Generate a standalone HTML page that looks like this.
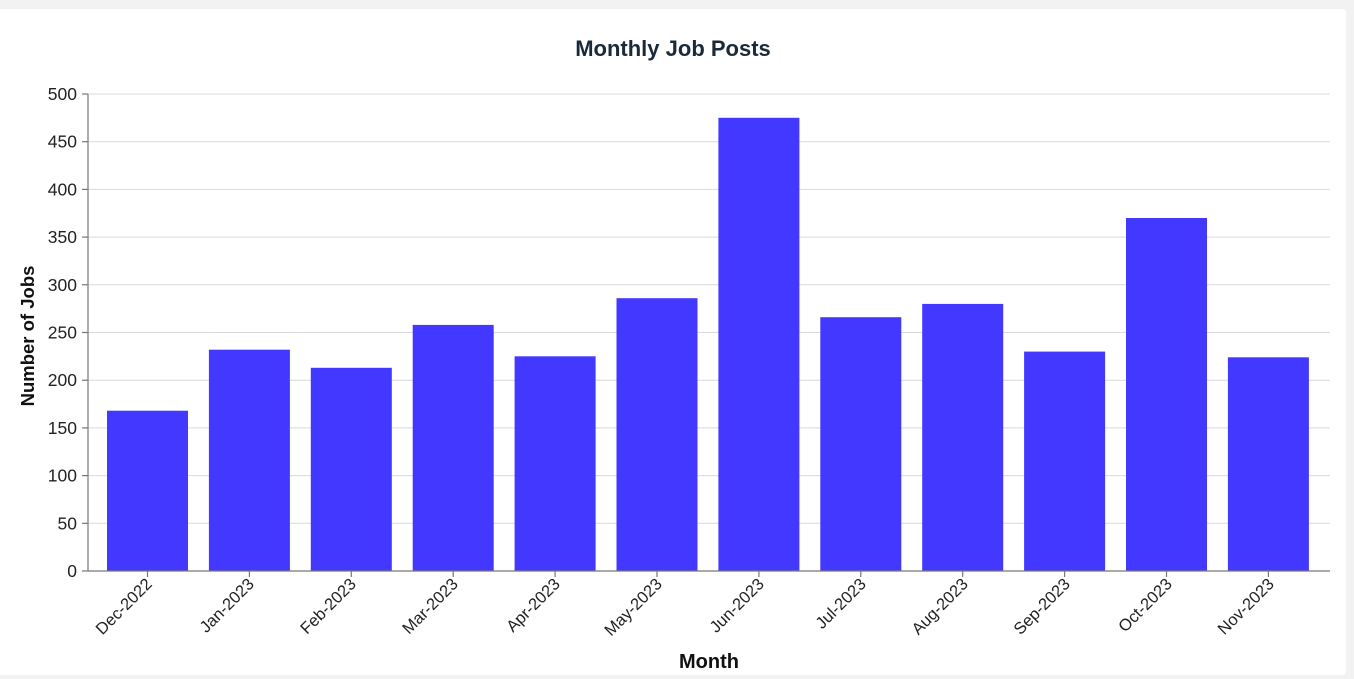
<!DOCTYPE html>
<html><head><meta charset="utf-8"><style>
html,body{margin:0;padding:0;width:1354px;height:679px;overflow:hidden;background:#f2f2f2;font-family:"Liberation Sans",sans-serif}
.card{position:absolute;left:0;top:9px;width:1346px;height:666px;background:#fff;border-radius:0 4px 4px 0}
svg{position:absolute;left:0;top:0}
</style></head><body>
<div class="card"></div>
<svg width="1354" height="679" font-family="Liberation Sans, sans-serif">
<text x="673" y="56" text-anchor="middle" font-size="22" font-weight="bold" fill="#1a2a3a">Monthly Job Posts</text>
<g stroke="#d9d9d9" stroke-width="1">
<line x1="88" x2="1330" y1="94" y2="94"/><line x1="88" x2="1330" y1="141.7" y2="141.7"/>
<line x1="88" x2="1330" y1="189.4" y2="189.4"/><line x1="88" x2="1330" y1="237.1" y2="237.1"/>
<line x1="88" x2="1330" y1="284.8" y2="284.8"/><line x1="88" x2="1330" y1="332.5" y2="332.5"/>
<line x1="88" x2="1330" y1="380.2" y2="380.2"/><line x1="88" x2="1330" y1="427.9" y2="427.9"/>
<line x1="88" x2="1330" y1="475.6" y2="475.6"/><line x1="88" x2="1330" y1="523.3" y2="523.3"/>
</g>
<g fill="#4338ff">
<rect x="107" y="410.7" width="81" height="160.3"/>
<rect x="208.9" y="349.7" width="81" height="221.3"/>
<rect x="310.8" y="367.8" width="81" height="203.2"/>
<rect x="412.7" y="324.9" width="81" height="246.1"/>
<rect x="514.6" y="356.3" width="81" height="214.7"/>
<rect x="616.5" y="298.2" width="81" height="272.8"/>
<rect x="718.4" y="117.8" width="81" height="453.2"/>
<rect x="820.3" y="317.2" width="81" height="253.8"/>
<rect x="922.2" y="303.9" width="81" height="267.1"/>
<rect x="1024.1" y="351.6" width="81" height="219.4"/>
<rect x="1126" y="218" width="81" height="353"/>
<rect x="1227.9" y="357.3" width="81" height="213.7"/>
</g>
<g stroke="#777" stroke-width="1.2">
<line x1="88" x2="88" y1="94" y2="571"/><line x1="88" x2="1330" y1="571" y2="571"/>
<line x1="82" x2="88" y1="94" y2="94"/><line x1="82" x2="88" y1="141.7" y2="141.7"/>
<line x1="82" x2="88" y1="189.4" y2="189.4"/><line x1="82" x2="88" y1="237.1" y2="237.1"/>
<line x1="82" x2="88" y1="284.8" y2="284.8"/><line x1="82" x2="88" y1="332.5" y2="332.5"/>
<line x1="82" x2="88" y1="380.2" y2="380.2"/><line x1="82" x2="88" y1="427.9" y2="427.9"/>
<line x1="82" x2="88" y1="475.6" y2="475.6"/><line x1="82" x2="88" y1="523.3" y2="523.3"/>
<line x1="82" x2="88" y1="571" y2="571"/>
<line x1="147.5" x2="147.5" y1="571" y2="577"/><line x1="249.4" x2="249.4" y1="571" y2="577"/>
<line x1="351.3" x2="351.3" y1="571" y2="577"/><line x1="453.2" x2="453.2" y1="571" y2="577"/>
<line x1="555.1" x2="555.1" y1="571" y2="577"/><line x1="657" x2="657" y1="571" y2="577"/>
<line x1="758.9" x2="758.9" y1="571" y2="577"/><line x1="860.8" x2="860.8" y1="571" y2="577"/>
<line x1="962.7" x2="962.7" y1="571" y2="577"/><line x1="1064.6" x2="1064.6" y1="571" y2="577"/>
<line x1="1166.5" x2="1166.5" y1="571" y2="577"/><line x1="1268.4" x2="1268.4" y1="571" y2="577"/>
</g>
<g font-size="17.5" fill="#222" text-anchor="end">
<text x="77" y="100">500</text><text x="77" y="147.7">450</text><text x="77" y="195.4">400</text>
<text x="77" y="243.1">350</text><text x="77" y="290.8">300</text><text x="77" y="338.5">250</text>
<text x="77" y="386.2">200</text><text x="77" y="433.9">150</text><text x="77" y="481.6">100</text>
<text x="77" y="529.3">50</text><text x="77" y="577">0</text>
</g>
<g font-size="16.5" fill="#222" text-anchor="end">
<text transform="translate(153,585) rotate(-45)">Dec-2022</text>
<text transform="translate(255,585) rotate(-45)">Jan-2023</text>
<text transform="translate(357,585) rotate(-45)">Feb-2023</text>
<text transform="translate(459,585) rotate(-45)">Mar-2023</text>
<text transform="translate(561,585) rotate(-45)">Apr-2023</text>
<text transform="translate(663,585) rotate(-45)">May-2023</text>
<text transform="translate(765,585) rotate(-45)">Jun-2023</text>
<text transform="translate(867,585) rotate(-45)">Jul-2023</text>
<text transform="translate(969,585) rotate(-45)">Aug-2023</text>
<text transform="translate(1071,585) rotate(-45)">Sep-2023</text>
<text transform="translate(1173,585) rotate(-45)">Oct-2023</text>
<text transform="translate(1275,585) rotate(-45)">Nov-2023</text>
</g>
<text x="709" y="668" text-anchor="middle" font-size="20" font-weight="bold" fill="#111">Month</text>
<text transform="translate(34,336) rotate(-90)" text-anchor="middle" font-size="18.5" font-weight="bold" fill="#111">Number of Jobs</text>
</svg>
</body></html>
